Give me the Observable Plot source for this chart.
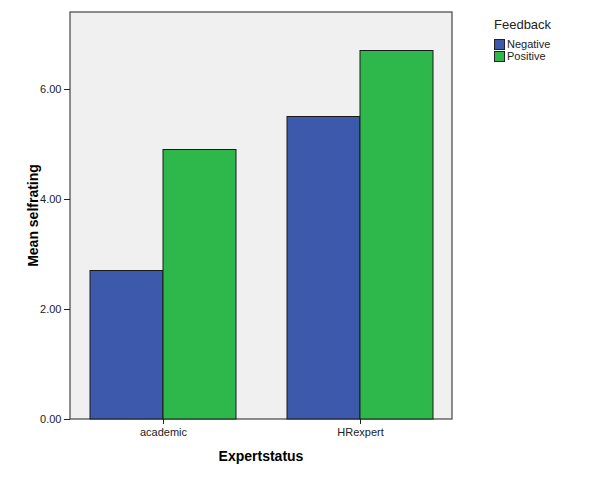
<!DOCTYPE html>
<html><head><meta charset="utf-8">
<script src="https://cdn.jsdelivr.net/npm/d3@7"></script>
<script src="https://cdn.jsdelivr.net/npm/@observablehq/plot@0.6"></script>
<style>
body{margin:0;background:#fff;font-family:Arial,"Liberation Sans",sans-serif;}
</style></head><body>
<div id="chart"></div>
<script>
const categories = ["academic", "HRexpert"];
const feedback = ["Negative", "Positive"];
const negativeValues = [2.7, 5.5];
const positiveValues = [4.9, 6.7];
const colors = ["#3d59ab", "#2eb84b"];
const yTicks = [0, 2, 4, 6];
const xTitle = "Expertstatus";
const yTitle = "Mean selfrating";
const legendTitle = "Feedback";

const data = [];
categories.forEach((c, i) => {
  data.push({cat: c, fb: "Negative", v: negativeValues[i]});
  data.push({cat: c, fb: "Positive", v: positiveValues[i]});
});

const W = 602, H = 482;
const mL = 70, mR = 150, mT = 12, mB = 63;

const plot = Plot.plot({
  width: W, height: H,
  marginLeft: mL, marginRight: mR, marginTop: mT, marginBottom: mB,
  style: {fontFamily: "Arial, 'Liberation Sans', sans-serif", fontSize: "11px", color: "#222", background: "transparent"},
  fx: {domain: categories, paddingInner: 0.259, paddingOuter: 0.096, label: null, tickSize: 5},
  x: {domain: feedback, padding: 0, axis: null},
  y: {domain: [0, 7.4], ticks: yTicks, tickFormat: d3.format(".2f"), tickSize: 6, label: null},
  color: {domain: feedback, range: colors},
  marks: [
    Plot.barY(data, {fx: "cat", x: "fb", y: "v", fill: "fb", stroke: "#1a1a1a", strokeWidth: 1})
  ]
});

const svg = d3.select(plot);
const fx = plot.scale("fx");
const shift = fx.apply(categories[0]) - mL;

// move the y axis from the first facet's edge to the panel's edge
svg.selectAll('g[aria-label="y-axis tick"], g[aria-label="y-axis tick label"]').each(function() {
  const t = this.getAttribute("transform") || "";
  this.setAttribute("transform", `translate(${-shift},0) ${t}`);
});

// plot background panel
svg.insert("rect", ":first-child")
  .attr("x", mL).attr("y", mT)
  .attr("width", W - mL - mR).attr("height", H - mT - mB)
  .attr("fill", "#f0f0f0").attr("stroke", "#444").attr("stroke-width", 1.2);

// axis titles
svg.append("text")
  .attr("transform", `translate(38,${(mT + H - mB) / 2}) rotate(-90)`)
  .attr("text-anchor", "middle")
  .style("font-weight", "bold").style("font-size", "14px").attr("fill", "#000")
  .text(yTitle);
svg.append("text")
  .attr("x", (mL + W - mR) / 2).attr("y", 461)
  .attr("text-anchor", "middle")
  .style("font-weight", "bold").style("font-size", "14px").attr("fill", "#000")
  .text(xTitle);

// legend
const lg = svg.append("g").attr("transform", `translate(${W - mR + 42},0)`).attr("text-anchor", "start");
lg.append("text").attr("x", 0).attr("y", 29).text(legendTitle)
  .style("font-size", "13px").attr("fill", "#222");
feedback.forEach((f, i) => {
  lg.append("rect").attr("x", 0.5).attr("y", 39.5 + i * 12).attr("width", 10).attr("height", 10)
    .attr("fill", colors[i]).attr("stroke", "#222");
  lg.append("text").attr("x", 13).attr("y", 44.5 + i * 12).attr("dy", "0.35em")
    .text(f).style("font-size", "11px").attr("fill", "#222");
});

document.getElementById("chart").appendChild(plot);
</script>
</body></html>
